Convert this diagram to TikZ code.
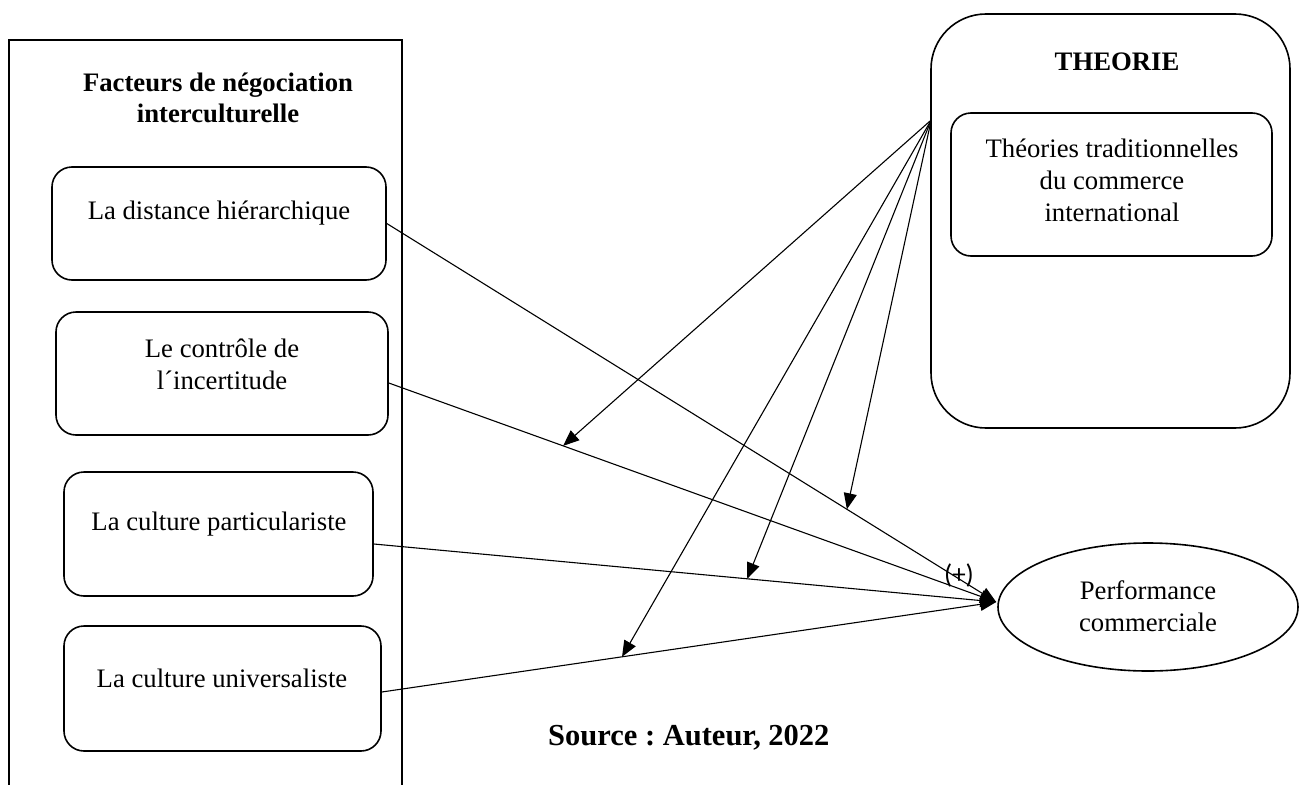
\documentclass[tikz,border=0pt]{standalone}
\usepackage{fontspec}
\setmainfont{Liberation Serif}
\newfontfamily\plusfont{Carlito}
\usetikzlibrary{arrows.meta,calc,shapes.geometric}
\frenchspacing
\begin{document}
\begin{tikzpicture}[x=1pt,y=-1pt,
  frame/.style={draw,line width=1.6pt},
  factbox/.style={draw,line width=1.6pt,rounded corners=20pt,inner sep=0pt},
  lbl/.style={font=\fontsize{26.7}{32}\selectfont,align=center,inner sep=0pt},
  ttl/.style={font=\fontsize{26.7}{31}\selectfont\bfseries,align=center,inner sep=0pt},
  conn/.style={line width=1.1pt,-{Triangle[length=16pt,width=13pt]}},
]
\useasboundingbox (0,0) rectangle (1305,784);

% left frame
\draw[frame] (9,800) -- (9,40) -- (402,40) -- (402,800);
\node[ttl] (ftitle) at (218,98) {Facteurs de négociation\\interculturelle};

% factor boxes
\node[factbox,minimum width=334pt,minimum height=113pt] (b1) at (219,223.5) {};
\node[factbox,minimum width=332pt,minimum height=123pt] (b2) at (222,373.5) {};
\node[factbox,minimum width=309pt,minimum height=124pt] (b3) at (218.5,534) {};
\node[factbox,minimum width=317pt,minimum height=125pt] (b4) at (222.5,688.5) {};
\node[lbl] (t1) at (219,213) {La distance hiérarchique};
\node[lbl] (t2) at (222,364) {Le contrôle de\\l´incertitude};
\node[lbl] (t3) at (219,524) {La culture particulariste};
\node[lbl] (t4) at (222,678) {La culture universaliste};

% theory
\node[factbox,rounded corners=55pt,minimum width=359pt,minimum height=414pt] (th) at (1110.5,221) {};
\node[ttl] (thtitle) at (1117,62) {THEORIE};
\node[factbox,minimum width=321pt,minimum height=143pt] (thin) at (1111.5,184.5) {};
\node[lbl] (thtext) at (1112,180) {Théories traditionnelles\\du commerce\\international};

% performance
\node[draw,line width=1.6pt,ellipse,minimum width=300pt,minimum height=128pt,inner sep=0pt] (perf) at (1148,607) {};
\node[lbl] (perftext) at (1148,606) {Performance\\commerciale};

% anchor points
\coordinate (conv) at ([yshift=5pt,xshift=-1pt]perf.west);
\coordinate (s1) at (b1.east);
\coordinate (s2) at ([yshift=-9.5pt]b2.east);
\coordinate (s3) at ([yshift=-10pt]b3.east);
\coordinate (s4) at ([yshift=-3.5pt]b4.east);
\coordinate (src) at ([yshift=101pt,xshift=1pt]th.west);

\coordinate (ta) at ($(s2)!0.287!(conv)$);
\coordinate (tb) at ($(s1)!0.755!(conv)$);
\coordinate (tc) at ($(s3)!0.60!(conv)$);
\coordinate (td) at ($(s4)!0.391!(conv)$);

% factor connectors
\draw[conn] (s1) -- (conv);
\draw[conn] (s2) -- (conv);
\draw[conn] (s3) -- (conv);
\draw[conn] (s4) -- (conv);

% theory connectors
\draw[conn] (src) -- (ta);
\draw[conn] (src) -- (tb);
\draw[conn] (src) -- (tc);
\draw[conn] (src) -- (td);

\node[inner sep=0pt,font=\plusfont\fontsize{27}{30}\selectfont] (plus) at (959,575) {(+)};

\node[ttl,font=\fontsize{30.5}{34}\selectfont\bfseries,anchor=base west] (source) at (548,745) {Source : Auteur, 2022};
\end{tikzpicture}
\end{document}
